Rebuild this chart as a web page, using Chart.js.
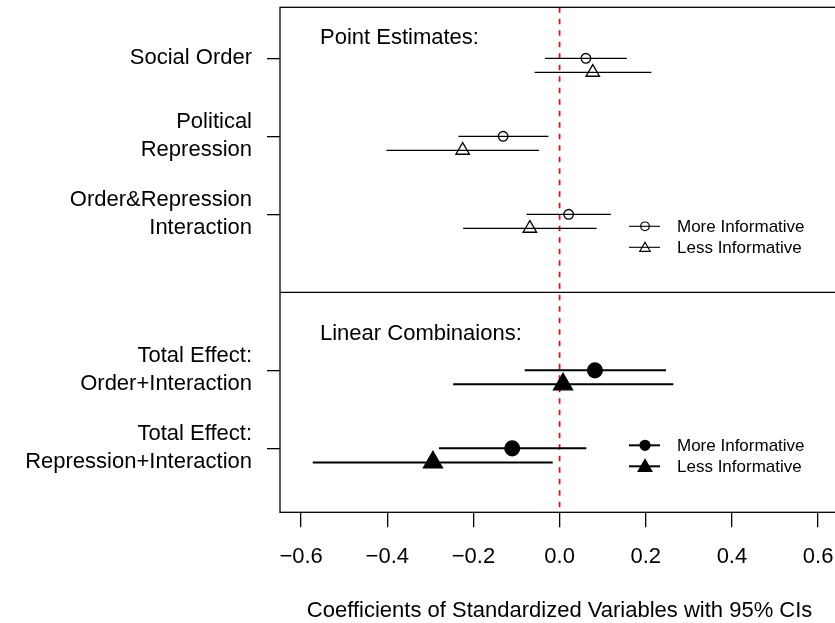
<!DOCTYPE html>
<html>
<head>
<meta charset="utf-8">
<title>Coefficients plot</title>
<script src="https://cdn.jsdelivr.net/npm/chart.js@4.4.1/dist/chart.umd.min.js"></script>
<style>
  html, body { margin: 0; padding: 0; overflow: hidden; background: #fff; }
  /* the plot box runs a little past the right edge of the window, like the original */
  #wrap { width: 845px; height: 640px; }
</style>
</head>
<body>
<div id="wrap"><canvas id="coefChart"></canvas></div>
<script>
// Veriler
const rowLabels = [
  ['Social Order'],
  ['Political', 'Repression'],
  ['Order&Repression', 'Interaction'],
  ['Total Effect:', 'Order+Interaction'],
  ['Total Effect:', 'Repression+Interaction']
];
const rowPos = [0, 1, 2, 4, 5];
const isCombo = [false, false, false, true, true];

const moreEst = [0.061, -0.131, 0.021, 0.082, -0.110];
const moreLo  = [-0.034, -0.235, -0.077, -0.081, -0.280];
const moreHi  = [0.156, -0.026, 0.119, 0.247, 0.062];

const lessEst = [0.077, -0.225, -0.069, 0.008, -0.294];
const lessLo  = [-0.058, -0.402, -0.224, -0.247, -0.573];
const lessHi  = [0.213, -0.048, 0.086, 0.264, -0.016];

const seriesNames = ['More Informative', 'Less Informative'];
const groupTitles = ['Point Estimates:', 'Linear Combinaions:'];
const xTicks = [-0.6, -0.4, -0.2, 0, 0.2, 0.4, 0.6];
const splitAt = 3;

// eksen sınırları
const xMin = -0.649, xMax = 0.649;
const yMin = -0.654, yMax = 5.82;
const lessShift = 0.18;

const FONT = '"Liberation Sans", Arial, Helvetica, sans-serif';

function segment(data, width, color, dash) {
  return {
    data: data,
    showLine: true,
    borderColor: color || '#000',
    borderWidth: width,
    borderDash: dash || [],
    pointRadius: 0,
    order: 2
  };
}

// güven aralıkları
const datasets = [];
rowPos.forEach((p, i) => {
  const w = isCombo[i] ? 2 : 1.2;
  datasets.push(segment([{x: moreLo[i], y: p}, {x: moreHi[i], y: p}], w));
  datasets.push(segment([{x: lessLo[i], y: p + lessShift}, {x: lessHi[i], y: p + lessShift}], w));
});

// referans çizgileri
datasets.push(segment([{x: 0, y: yMin}, {x: 0, y: yMax}], 1.7, '#ff0000', [5.5, 6]));
datasets.push(segment([{x: xMin, y: splitAt}, {x: xMax, y: splitAt}], 1.1));

// noktalar
datasets.push({
  label: seriesNames[0],
  data: rowPos.map((p, i) => ({x: moreEst[i], y: p})),
  pointStyle: 'circle',
  pointRadius: isCombo.map(c => c ? 7.4 : 4.8),
  pointBackgroundColor: isCombo.map(c => c ? '#000' : 'rgba(0,0,0,0)'),
  pointBorderColor: '#000',
  pointBorderWidth: 1.3,
  order: 0
});
datasets.push({
  label: seriesNames[1],
  data: rowPos.map((p, i) => ({x: lessEst[i], y: p + lessShift})),
  pointStyle: 'triangle',
  pointRadius: isCombo.map(c => c ? 11 : 7.8),
  pointBackgroundColor: isCombo.map(c => c ? '#000' : 'rgba(0,0,0,0)'),
  pointBorderColor: '#000',
  pointBorderWidth: 1.3,
  order: 0
});

function marker(ctx, style, x, y, r, filled) {
  ctx.beginPath();
  if (style === 'circle') {
    ctx.arc(x, y, r, 0, Math.PI * 2);
  } else {
    ctx.moveTo(x, y - r);
    ctx.lineTo(x + r * Math.sin(2 * Math.PI / 3), y + r / 2);
    ctx.lineTo(x - r * Math.sin(2 * Math.PI / 3), y + r / 2);
    ctx.closePath();
  }
  if (filled) { ctx.fillStyle = '#000'; ctx.fill(); }
  ctx.stroke();
}

// kutu, başlıklar ve iki küçük lejant
const decorPlugin = {
  id: 'decor',
  afterDraw(chart) {
    const ctx = chart.ctx;
    const area = chart.chartArea;
    const ys = chart.scales.y;
    ctx.save();
    ctx.strokeStyle = '#000';
    ctx.lineWidth = 1.3;
    ctx.strokeRect(area.left, area.top, area.right - area.left, area.bottom - area.top);

    ctx.fillStyle = '#000';
    ctx.font = '22px ' + FONT;
    ctx.textAlign = 'left';
    ctx.textBaseline = 'alphabetic';
    ctx.fillText(groupTitles[0], area.left + 40, area.top + 37);
    ctx.fillText(groupTitles[1], area.left + 40, ys.getPixelForValue(splitAt) + 48);

    const legends = [
      {top: area.top + 219, filled: false, lw: 1.1, r: [4.3, 6]},
      {top: ys.getPixelForValue(splitAt) + 153, filled: true, lw: 2, r: [5, 8]}
    ];
    ctx.font = '17px ' + FONT;
    ctx.textBaseline = 'middle';
    legends.forEach(lg => {
      ['circle', 'triangle'].forEach((st, k) => {
        const y = lg.top + k * 21;
        ctx.lineWidth = lg.lw;
        ctx.beginPath();
        ctx.moveTo(area.left + 349, y);
        ctx.lineTo(area.left + 380, y);
        ctx.stroke();
        ctx.lineWidth = 1.2;
        marker(ctx, st, area.left + 365, st === 'triangle' ? y + 1 : y, lg.r[k], lg.filled);
        ctx.fillStyle = '#000';
        ctx.fillText(seriesNames[k], area.left + 397, y + 1);
      });
    });
    ctx.restore();
  }
};

const ctx = document.getElementById('coefChart').getContext('2d');
new Chart(ctx, {
  type: 'scatter',
  data: {datasets: datasets},
  plugins: [decorPlugin],
  options: {
    responsive: true,
    maintainAspectRatio: false,
    animation: false,
    events: [],
    layout: {autoPadding: false, padding: {top: 7.3, right: 5.8, bottom: 0, left: 0}},
    plugins: {
      legend: {display: false},
      tooltip: {enabled: false}
    },
    scales: {
      x: {
        type: 'linear',
        min: xMin,
        max: xMax,
        afterBuildTicks: s => { s.ticks = xTicks.map(v => ({value: v})); },
        afterFit: s => { s.height = 127.7; s.paddingLeft = 0; s.paddingRight = 0; },
        border: {display: false},
        grid: {drawOnChartArea: false, drawTicks: true, tickLength: 15, color: '#000', lineWidth: 1.3},
        ticks: {
          autoSkip: false,
          maxRotation: 0,
          padding: 16,
          color: '#000',
          font: {family: FONT, size: 22, lineHeight: 1.2},
          callback: v => (v < -1e-9 ? '\u2212' : '') + Math.abs(v).toFixed(1)
        },
        title: {
          display: true,
          text: 'Coefficients of Standardized Variables with 95% CIs',
          color: '#000',
          font: {family: FONT, size: 22, lineHeight: 1.2},
          padding: {top: 0, bottom: 16.3}
        }
      },
      y: {
        type: 'linear',
        reverse: true,
        min: yMin,
        max: yMax,
        afterBuildTicks: s => { s.ticks = rowPos.map(v => ({value: v})); },
        afterFit: s => { s.width = 280; s.paddingTop = 0; s.paddingBottom = 0; },
        border: {display: false},
        grid: {drawOnChartArea: false, drawTicks: true, tickLength: 13, color: '#000', lineWidth: 1.3},
        ticks: {
          autoSkip: false,
          padding: 15,
          color: '#000',
          font: {family: FONT, size: 22, lineHeight: 1.27},
          callback: v => rowLabels[rowPos.indexOf(v)]
        }
      }
    }
  }
});
</script>
</body>
</html>
